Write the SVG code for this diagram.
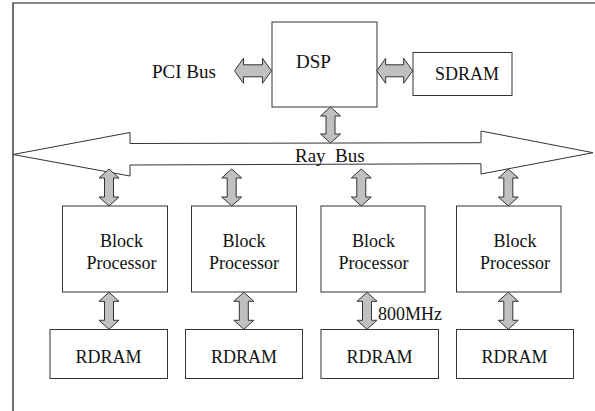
<svg xmlns="http://www.w3.org/2000/svg" width="595" height="411" viewBox="0 0 595 411">
<style>
.box{fill:#fff;stroke:#333;stroke-width:1}
.arr{fill:#c0c0c0;stroke:#333;stroke-width:1;stroke-linejoin:miter}
.frame{stroke:#111;stroke-width:1.2;fill:none}
</style>
<rect width="595" height="411" fill="#fff"/>
<path class="frame" d="M13,411 V3 H595"/>

<g id="bus">
<polygon class="box" points="13,154.5 130,132.5 130,143.5 481,142.7 481,131 593,152.7 481,174 481,163.7 130,165 130,176"/>
<text x="295" y="162" font-family="Liberation Serif" font-size="19" fill="#111" xml:space="preserve">Ray  Bus</text>
</g>

<g id="pci">
<text x="152" y="78" font-family="Liberation Serif" font-size="19" fill="#111">PCI Bus</text>
</g>

<g id="dsp">
<rect class="box" x="272" y="22" width="105" height="85"/>
<text x="296" y="68" font-family="Liberation Serif" font-size="19" fill="#111">DSP</text>
</g>

<g id="sdram">
<rect class="box" x="413" y="52.5" width="99" height="43"/>
<text x="435" y="80" font-family="Liberation Serif" font-size="18" fill="#111">SDRAM</text>
</g>

<g id="bp1">
<rect class="box" x="62.5" y="206" width="105" height="86"/>
<text x="121.5" y="247" font-family="Liberation Serif" font-size="18" fill="#111" text-anchor="middle">Block</text>
<text x="121.5" y="269" font-family="Liberation Serif" font-size="18" fill="#111" text-anchor="middle">Processor</text>
</g>
<g id="bp2">
<rect class="box" x="191.5" y="206" width="105" height="86"/>
<text x="244" y="247" font-family="Liberation Serif" font-size="18" fill="#111" text-anchor="middle">Block</text>
<text x="244" y="269" font-family="Liberation Serif" font-size="18" fill="#111" text-anchor="middle">Processor</text>
</g>
<g id="bp3">
<rect class="box" x="321" y="206" width="104" height="86"/>
<text x="373.5" y="247" font-family="Liberation Serif" font-size="18" fill="#111" text-anchor="middle">Block</text>
<text x="373.5" y="269" font-family="Liberation Serif" font-size="18" fill="#111" text-anchor="middle">Processor</text>
</g>
<g id="bp4">
<rect class="box" x="456.5" y="206" width="104.5" height="86"/>
<text x="515" y="247" font-family="Liberation Serif" font-size="18" fill="#111" text-anchor="middle">Block</text>
<text x="515" y="269" font-family="Liberation Serif" font-size="18" fill="#111" text-anchor="middle">Processor</text>
</g>

<g id="rdram1">
<rect class="box" x="50" y="329.5" width="117.5" height="49"/>
<text x="108.5" y="363" font-family="Liberation Serif" font-size="18" fill="#111" text-anchor="middle">RDRAM</text>
</g>
<g id="rdram2">
<rect class="box" x="185.5" y="329.5" width="117" height="49"/>
<text x="244" y="363" font-family="Liberation Serif" font-size="18" fill="#111" text-anchor="middle">RDRAM</text>
</g>
<g id="rdram3">
<rect class="box" x="321" y="329.5" width="117.5" height="49"/>
<text x="379.5" y="363" font-family="Liberation Serif" font-size="18" fill="#111" text-anchor="middle">RDRAM</text>
</g>
<g id="rdram4">
<rect class="box" x="456.5" y="329.5" width="117" height="49"/>
<text x="514.5" y="363" font-family="Liberation Serif" font-size="18" fill="#111" text-anchor="middle">RDRAM</text>
</g>

<g id="connectors">
<path class="arr" transform="translate(234.5,70.8)" d="M0,0 L9,-12.5 L9,-6 L28,-6 L28,-12.5 L37,0 L28,12.5 L28,6 L9,6 L9,12.5 Z"/>
<path class="arr" transform="translate(376.7,70.8)" d="M0,0 L9,-12.5 L9,-6 L27,-6 L27,-12.5 L36,0 L27,12.5 L27,6 L9,6 L9,12.5 Z"/>
<path class="arr" transform="translate(330.5,107)" d="M0,0 L10,9 L4.5,9 L4.5,27 L10,27 L0,36 L-10,27 L-4.5,27 L-4.5,9 L-10,9 Z"/>
<path class="arr" transform="translate(109,169)" d="M0,0 L10,9 L4.5,9 L4.5,28 L10,28 L0,37 L-10,28 L-4.5,28 L-4.5,9 L-10,9 Z"/>
<path class="arr" transform="translate(231.7,169)" d="M0,0 L10,9 L4.5,9 L4.5,28 L10,28 L0,37 L-10,28 L-4.5,28 L-4.5,9 L-10,9 Z"/>
<path class="arr" transform="translate(361.3,169)" d="M0,0 L10,9 L4.5,9 L4.5,28 L10,28 L0,37 L-10,28 L-4.5,28 L-4.5,9 L-10,9 Z"/>
<path class="arr" transform="translate(508.3,169)" d="M0,0 L10,9 L4.5,9 L4.5,28 L10,28 L0,37 L-10,28 L-4.5,28 L-4.5,9 L-10,9 Z"/>
<path class="arr" transform="translate(109,292.3)" d="M0,0 L10,9 L4.5,9 L4.5,28 L10,28 L0,37 L-10,28 L-4.5,28 L-4.5,9 L-10,9 Z"/>
<path class="arr" transform="translate(243.8,292.3)" d="M0,0 L10,9 L4.5,9 L4.5,28 L10,28 L0,37 L-10,28 L-4.5,28 L-4.5,9 L-10,9 Z"/>
<path class="arr" transform="translate(367,292.3)" d="M0,0 L10,9 L4.5,9 L4.5,28 L10,28 L0,37 L-10,28 L-4.5,28 L-4.5,9 L-10,9 Z"/>
<path class="arr" transform="translate(508.3,292.3)" d="M0,0 L10,9 L4.5,9 L4.5,28 L10,28 L0,37 L-10,28 L-4.5,28 L-4.5,9 L-10,9 Z"/>
<text x="378" y="320" font-family="Liberation Serif" font-size="18" fill="#111">800MHz</text>
</g>
</svg>
